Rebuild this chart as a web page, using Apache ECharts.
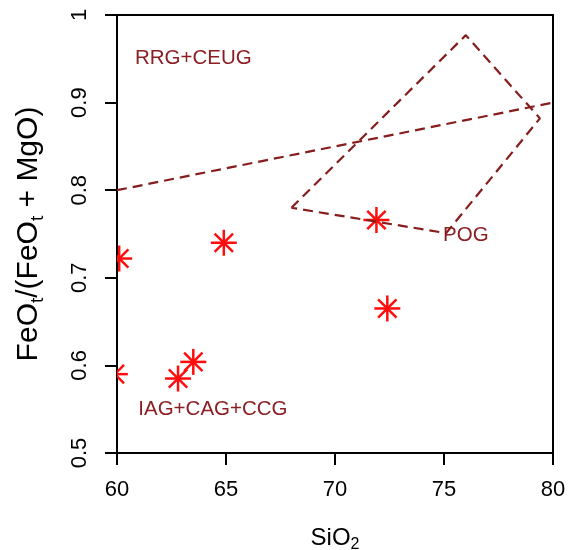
<!DOCTYPE html>
<html>
<head>
<meta charset="utf-8">
<script src="https://cdn.jsdelivr.net/npm/echarts@6/dist/echarts.min.js"></script>
<style>
html,body{margin:0;padding:0;background:#fff;}
#main{width:575px;height:550px;}
</style>
</head>
<body>
<div id="main"></div>
<script>
// samples (asterisks)
var sio2 = [60.1, 64.9, 63.5, 62.8, 59.9, 71.9, 72.4];
var feoRatio = [0.722, 0.740, 0.604, 0.585, 0.590, 0.766, 0.665];
// RRG+CEUG / IAG+CAG+CCG dividing line
var divideX = [60, 80];
var divideY = [0.8, 0.9];
// POG field
var pogX = [68, 76, 79.4, 75.1, 68];
var pogY = [0.78, 0.977, 0.882, 0.751, 0.78];
// field labels
var fieldNames = ['RRG+CEUG', 'IAG+CAG+CCG', 'POG'];
var fieldX = [63.5, 64.4, 76.0];
var fieldY = [0.95, 0.55, 0.749];
var yTicks = ['0.5', '0.6', '0.7', '0.8', '0.9', '1'];

var FONT = 'Liberation Sans, Arial, sans-serif';
var lineColor = '#861c1c';
var textColor = '#8b1f24';

function zip(a, b) {
	var out = [];
	for (var i = 0; i < a.length; i++) out.push([a[i], b[i]]);
	return out;
}

function renderStar(params, api) {
	var p = api.coord([api.value(0), api.value(1)]);
	var r = 13, d = r / Math.SQRT2;
	var st = {stroke: '#ff0d0d', lineWidth: 2.5};
	return {
		type: 'group',
		children: [
			{type: 'line', shape: {x1: p[0] - r, y1: p[1], x2: p[0] + r, y2: p[1]}, style: st},
			{type: 'line', shape: {x1: p[0], y1: p[1] - r, x2: p[0], y2: p[1] + r}, style: st},
			{type: 'line', shape: {x1: p[0] - d, y1: p[1] - d, x2: p[0] + d, y2: p[1] + d}, style: st},
			{type: 'line', shape: {x1: p[0] - d, y1: p[1] + d, x2: p[0] + d, y2: p[1] - d}, style: st}
		]
	};
}

function renderLabel(params, api) {
	var p = api.coord([api.value(0), api.value(1)]);
	return {
		type: 'text',
		x: p[0],
		y: p[1],
		style: {
			text: fieldNames[params.dataIndex],
			fill: textColor,
			font: '20.5px ' + FONT,
			align: 'center',
			verticalAlign: 'middle'
		}
	};
}

var chart = echarts.init(document.getElementById('main'));
var dashed = {color: lineColor, width: 2.2, type: [10, 6]};

chart.setOption({
	animation: false,
	backgroundColor: '#fff',
	grid: {left: 117, top: 15, right: 22, bottom: 97, show: true, borderColor: '#000', borderWidth: 2,
		containLabel: false, outerBoundsMode: 'none'},
	xAxis: {
		type: 'value', min: 60, max: 80, interval: 5,
		name: 'SiO{s|2}', nameLocation: 'middle', nameGap: 70,
		nameTextStyle: {color: '#000', fontSize: 24, fontFamily: FONT, lineHeight: 30,
			rich: {s: {fontSize: 16, lineHeight: 16, verticalAlign: 'bottom', fontFamily: FONT, color: '#000'}}},
		axisLine: {lineStyle: {color: '#000', width: 2}},
		axisTick: {length: 12, lineStyle: {color: '#000', width: 2}},
		axisLabel: {color: '#000', fontSize: 22, fontFamily: FONT, margin: 26},
		splitLine: {show: false}
	},
	yAxis: {
		type: 'value', min: 0.5, max: 1, interval: 0.1,
		name: 'FeO{s|t}/(FeO{s|t} + MgO)', nameLocation: 'middle', nameGap: 70, nameRotate: 90,
		nameTextStyle: {color: '#000', fontSize: 30, fontFamily: FONT, lineHeight: 36,
			rich: {s: {fontSize: 19, lineHeight: 19, verticalAlign: 'bottom', fontFamily: FONT, color: '#000'}}},
		axisLine: {lineStyle: {color: '#000', width: 2}},
		axisTick: {length: 12, lineStyle: {color: '#000', width: 2}},
		axisLabel: {color: '#000', fontSize: 22, fontFamily: FONT, margin: 26, rotate: 90,
			formatter: function(v) { return yTicks[Math.round((v - 0.5) * 10)]; }},
		splitLine: {show: false}
	},
	series: [
		{type: 'line', data: zip(divideX, divideY), showSymbol: false, symbol: 'none', lineStyle: dashed, silent: true},
		{type: 'line', data: zip(pogX, pogY), showSymbol: false, symbol: 'none', lineStyle: dashed, silent: true},
		{type: 'custom', data: zip(fieldX, fieldY), renderItem: renderLabel, silent: true},
		{type: 'custom', data: zip(sio2, feoRatio), renderItem: renderStar, clip: true, silent: true}
	]
});
</script>
</body>
</html>
